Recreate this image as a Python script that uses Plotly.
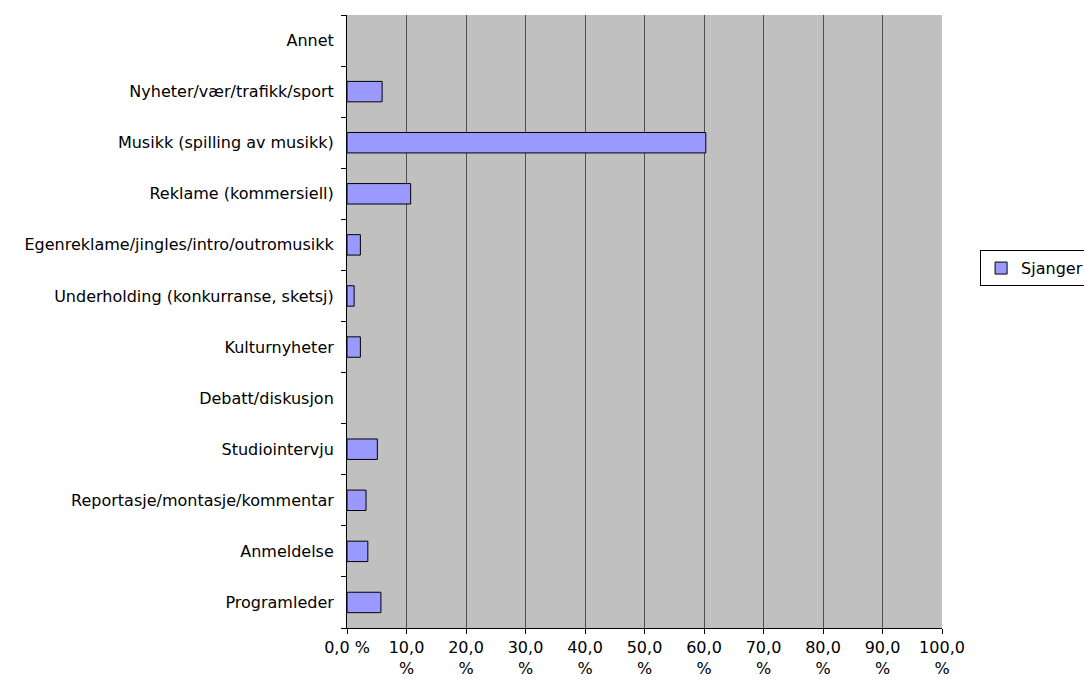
import plotly.graph_objects as go

categories = [
    "Programleder",
    "Anmeldelse",
    "Reportasje/montasje/kommentar",
    "Studiointervju",
    "Debatt/diskusjon",
    "Kulturnyheter",
    "Underholding (konkurranse, sketsj)",
    "Egenreklame/jingles/intro/outromusikk",
    "Reklame (kommersiell)",
    "Musikk (spilling av musikk)",
    "Nyheter/vær/trafikk/sport",
    "Annet",
]
values = [5.7, 3.5, 3.2, 5.1, 0.0, 2.25, 1.2, 2.25, 10.7, 60.3, 5.9, 0.0]
series_name = "Sjanger"

tick_vals = [0, 10, 20, 30, 40, 50, 60, 70, 80, 90, 100]
tick_text = ["0,0 %"] + [f"{v},0<br>%" for v in tick_vals[1:]]

font = dict(family="DejaVu Sans, Verdana, sans-serif", size=16, color="black")

fig = go.Figure()
fig.add_trace(go.Bar(
    y=categories,
    x=values,
    orientation="h",
    name=series_name,
    marker=dict(color="#9999FF",
                line=dict(color="black", width=[1 if v > 0 else 0 for v in values])),
    showlegend=True,
))

fig.update_layout(
    width=1084,
    height=680,
    margin=dict(l=347, r=142, t=15, b=52, autoexpand=False),
    paper_bgcolor="white",
    plot_bgcolor="#C0C0C0",
    font=font,
    bargap=0.6,
    showlegend=True,
    legend=dict(
        x=1.064, y=0.587, xanchor="left", yanchor="middle",
        bgcolor="white", bordercolor="black", borderwidth=1,
        font=font, itemwidth=30,
    ),
    xaxis=dict(
        range=[0, 100],
        tickvals=tick_vals,
        ticktext=tick_text,
        ticks="outside",
        ticklen=5,
        tickcolor="black",
        showgrid=True,
        gridcolor="#505050",
        gridwidth=1,
        showline=True,
        linecolor="black",
        linewidth=1,
        zeroline=False,
        automargin=False,
    ),
    yaxis=dict(
        type="category",
        categoryorder="array",
        categoryarray=categories,
        ticks="outside",
        tickson="boundaries",
        ticklen=5,
        tickcolor="black",
        showgrid=False,
        showline=True,
        linecolor="black",
        linewidth=1,
        ticklabelstandoff=9,
        automargin=False,
    ),
)

fig.write_html("out.html", config={"displayModeBar": False},
               post_script="document.body.style.margin='0';")
